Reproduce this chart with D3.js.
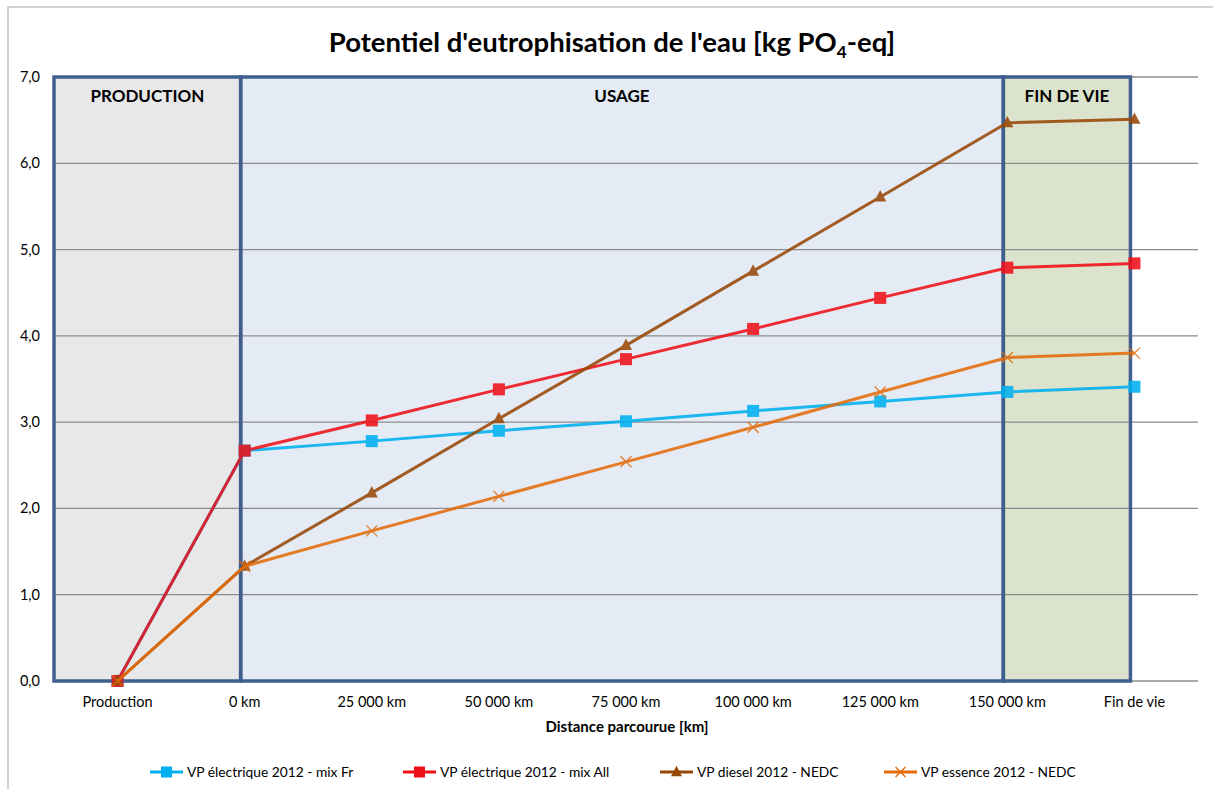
<!DOCTYPE html>
<html>
<head>
<meta charset="utf-8">
<script src="https://cdn.jsdelivr.net/npm/d3@7"></script>
<style>
body { margin: 0; background: #fff; }
text { font-family: Lato, "Open Sans", sans-serif; fill: #000; }
</style>
</head>
<body>
<div id="mainDiv"></div>
<script>
// categories and series values
var categories = ["Production", "0 km", "25 000 km", "50 000 km", "75 000 km", "100 000 km", "125 000 km", "150 000 km", "Fin de vie"];
var elecFr  = [0, 2.67, 2.78, 2.90, 3.01, 3.13, 3.24, 3.35, 3.41];
var elecAll = [0, 2.67, 3.02, 3.38, 3.73, 4.08, 4.44, 4.79, 4.84];
var diesel  = [0, 1.33, 2.18, 3.04, 3.89, 4.75, 5.61, 6.47, 6.51];
var essence = [0, 1.33, 1.74, 2.14, 2.54, 2.94, 3.35, 3.75, 3.80];
var yTicks = [0, 1, 2, 3, 4, 5, 6, 7];
// phases: label, first category index, last category index
var phases = [["PRODUCTION", -1, 1], ["USAGE", 1, 7], ["FIN DE VIE", 7, 8]];

var series = [
  {name: "VP électrique 2012 - mix Fr", values: elecFr, color: "#00b0f0", marker: "square"},
  {name: "VP électrique 2012 - mix All", values: elecAll, color: "#f01018", marker: "square"},
  {name: "VP diesel 2012 - NEDC", values: diesel, color: "#984807", marker: "triangle"},
  {name: "VP essence 2012 - NEDC", values: essence, color: "#e46c0a", marker: "cross"}
];
var phaseFill = ["#e8e8e8", "#e4ebf5", "#dce3cc"];

var W = 1213, H = 789;
var plotLeft = 54, plotRight = 1198, plotTop = 77, plotBottom = 681;

var svg = d3.select("#mainDiv").append("svg")
  .attr("width", W)
  .attr("height", H);

// outer chart border
svg.append("rect")
  .attr("x", 8).attr("y", 7)
  .attr("width", 1230).attr("height", 820)
  .attr("fill", "#fff")
  .attr("stroke", "#a6a6a6")
  .attr("stroke-width", 1);

var x = d3.scalePoint().domain(categories).range([plotLeft, plotRight]).padding(0.5);
var y = d3.scaleLinear().domain([0, 7]).range([plotBottom, plotTop]);

function edge(i) {
  if (i < 0) return plotLeft;
  return x(categories[i]) - 4;
}

// phase fills
phases.forEach(function(p, i) {
  svg.append("rect")
    .attr("x", edge(p[1]))
    .attr("y", y(7))
    .attr("width", edge(p[2]) - edge(p[1]))
    .attr("height", y(0) - y(7))
    .attr("fill", phaseFill[i]);
});

// gridlines
svg.append("g").selectAll("line").data(yTicks).enter().append("line")
  .attr("x1", plotLeft).attr("x2", plotRight)
  .attr("y1", function(d) { return y(d); })
  .attr("y2", function(d) { return y(d); })
  .attr("stroke", "#8c8c8c")
  .attr("stroke-width", 1.3);

// phase borders and labels
phases.forEach(function(p) {
  svg.append("rect")
    .attr("x", edge(p[1]))
    .attr("y", y(7))
    .attr("width", edge(p[2]) - edge(p[1]))
    .attr("height", y(0) - y(7))
    .attr("fill", "none")
    .attr("stroke", "#3f5f8e")
    .attr("stroke-width", 3.5);
  svg.append("text")
    .attr("x", (edge(p[1]) + edge(p[2])) / 2)
    .attr("y", y(7) + 25)
    .attr("text-anchor", "middle")
    .attr("font-size", "17px")
    .attr("font-weight", "bold")
    .text(p[0]);
});

// y axis labels
svg.append("g").selectAll("text").data(yTicks).enter().append("text")
  .attr("x", 40)
  .attr("y", function(d) { return y(d) + 5; })
  .attr("text-anchor", "end")
  .attr("font-size", "14.5px")
  .text(function(d) { return d3.format(".1f")(d).replace(".", ","); });

// x axis labels
svg.append("g").selectAll("text").data(categories).enter().append("text")
  .attr("x", function(d) { return x(d); })
  .attr("y", 707)
  .attr("text-anchor", "middle")
  .attr("font-size", "14.5px")
  .text(function(d) { return d; });

svg.append("text")
  .attr("x", 627).attr("y", 732)
  .attr("text-anchor", "middle")
  .attr("font-size", "15px")
  .attr("font-weight", "bold")
  .text("Distance parcourue [km]");

// title
var title = svg.append("text")
  .attr("x", 612).attr("y", 52)
  .attr("text-anchor", "middle")
  .attr("font-size", "27.5px")
  .attr("font-weight", "bold");
title.append("tspan").text("Potentiel d'eutrophisation de l'eau [kg PO");
title.append("tspan").attr("font-size", "17px").attr("dy", 6).text("4");
title.append("tspan").attr("dy", -6).text("-eq]");

function drawMarker(g, type, cx, cy, color, s) {
  if (type == "square") {
    g.append("rect")
      .attr("x", cx - s / 2).attr("y", cy - s / 2)
      .attr("width", s).attr("height", s)
      .attr("fill", color);
  } else if (type == "triangle") {
    var h = s * 0.95;
    g.append("path")
      .attr("d", "M " + cx + " " + (cy - h * 0.6) + " L " + (cx + s / 2) + " " + (cy + h * 0.4) + " L " + (cx - s / 2) + " " + (cy + h * 0.4) + " Z")
      .attr("fill", color);
  } else {
    var r = s / 2;
    g.append("path")
      .attr("d", "M " + (cx - r) + " " + (cy - r) + " L " + (cx + r) + " " + (cy + r) + " M " + (cx - r) + " " + (cy + r) + " L " + (cx + r) + " " + (cy - r))
      .attr("stroke", color)
      .attr("stroke-width", 1.3)
      .attr("fill", "none");
  }
}

var line = d3.line()
  .x(function(d, i) { return x(categories[i]); })
  .y(function(d) { return y(d); });

// series lines and markers
series.forEach(function(s) {
  var g = svg.append("g").attr("opacity", 0.88);
  g.append("path")
    .attr("d", line(s.values))
    .attr("fill", "none")
    .attr("stroke", s.color)
    .attr("stroke-width", 3);
  s.values.forEach(function(v, i) {
    drawMarker(g, s.marker, x(categories[i]), y(v), s.color, s.marker == "cross" ? 11 : 12);
  });
});

// legend
var legendX = [150, 403, 660, 884];
series.forEach(function(s, i) {
  var g = svg.append("g");
  var lx = legendX[i], ly = 772;
  g.append("line")
    .attr("x1", lx).attr("x2", lx + 33)
    .attr("y1", ly).attr("y2", ly)
    .attr("stroke", s.color)
    .attr("stroke-width", 3);
  drawMarker(g, s.marker, lx + 16.5, ly, s.color, s.marker == "cross" ? 10 : 11);
  g.append("text")
    .attr("x", lx + 37).attr("y", ly + 5)
    .attr("font-size", "13.8px")
    .text(s.name);
});
</script>
</body>
</html>
